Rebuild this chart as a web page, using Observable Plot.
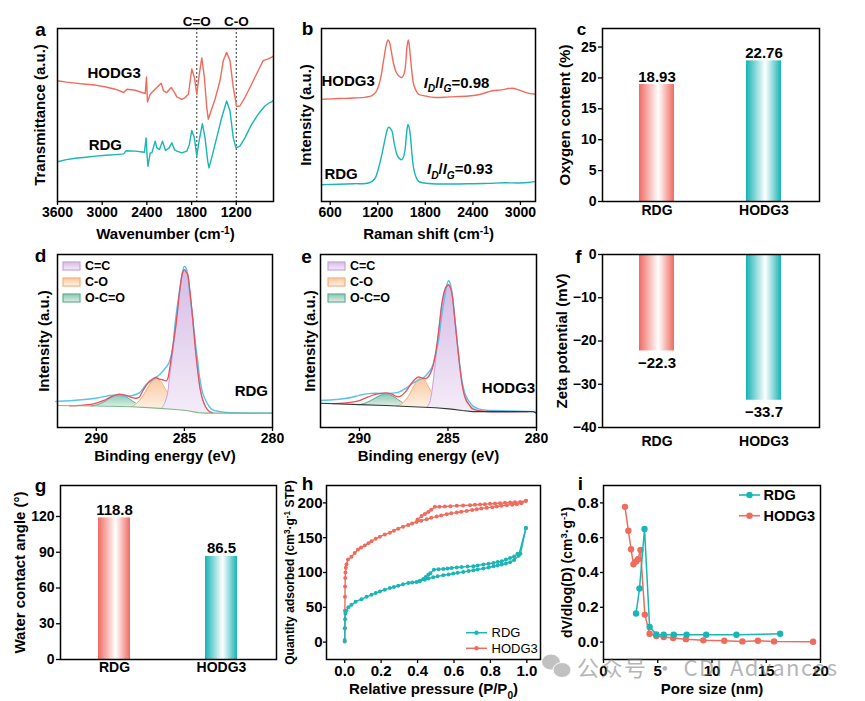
<!DOCTYPE html>
<html><head><meta charset="utf-8">
<script src="https://cdn.jsdelivr.net/npm/d3@7"></script>
<script src="https://cdn.jsdelivr.net/npm/@observablehq/plot@0.6"></script>
<style>
html,body{margin:0;padding:0;background:#fff;}
#root{position:relative;width:865px;height:701px;overflow:hidden;background:#fff;}
</style></head><body><div id="root"></div>
<script>
// ================= DATA =================
const samples = ["RDG", "HODG3"];
const oxygenContent = [18.93, 22.76];
const zetaPotential = [-22.3, -33.7];
const contactAngle = [118.8, 86.5];
const idigRatio = [0.98, 0.93];

// (a) FTIR  [wavenumber, transmittance a.u.]
const ftirTicks = [3600, 3000, 2400, 1800, 1200];
const ftirBands = [{wn: 1730, label: "C=O"}, {wn: 1200, label: "C-O"}];
const ftirHODG3 = [[3600,69.8],[3480,69.0],[3359,68.4],[3220,67.8],[3091,67.3],[2950,66.2],[2824,64.9],[2712,63.0],[2667,64.9],[2556,64.3],[2422,62.4],[2405,72.0],[2392,57.5],[2355,62.0],[2311,64.0],[2266,65.9],[2208,68.4],[2177,64.0],[2132,63.0],[2074,65.9],[2043,64.0],[1998,60.5],[1931,59.1],[1887,60.1],[1842,62.0],[1797,76.6],[1762,71.7],[1730,62.0],[1699,72.7],[1663,83.0],[1628,71.7],[1596,54.3],[1575,47.5],[1539,52.3],[1485,59.1],[1418,69.8],[1374,81.4],[1329,86.2],[1284,81.4],[1240,65.9],[1195,55.0],[1151,55.2],[1084,60.1],[994,67.8],[906,75.6],[839,81.4],[772,82.4],[728,83.3],[705,84.0]];
const ftirRDG = [[3600,23.0],[3480,24.2],[3359,25.0],[3220,25.6],[3091,26.2],[2950,26.7],[2824,27.1],[2712,27.5],[2680,29.3],[2556,29.1],[2433,28.5],[2410,36.8],[2398,27.0],[2386,20.3],[2355,28.1],[2333,28.1],[2288,34.9],[2266,31.0],[2230,30.0],[2190,34.9],[2150,29.5],[2100,31.0],[2065,33.9],[2030,30.0],[1998,29.1],[1931,28.1],[1864,29.1],[1830,33.0],[1797,41.1],[1762,36.8],[1730,26.2],[1699,34.9],[1655,45.0],[1619,36.8],[1583,23.3],[1566,19.4],[1530,25.2],[1463,36.8],[1396,48.4],[1329,58.1],[1284,52.3],[1240,36.8],[1204,31.0],[1151,32.0],[1084,36.8],[994,44.6],[906,50.4],[816,55.2],[749,57.2],[718,57.7],[705,58.5]];

// (b) Raman [shift, intensity a.u.]
const ramanTicks = [600, 1200, 1800, 2400, 3000];
const ramanHODG3 = [[490,59.1],[700,59.5],[900,59.8],[1050,60.3],[1127,61.2],[1180,63.5],[1230,70],[1273,81.4],[1300,89],[1316,92.0],[1329,93.4],[1345,92.5],[1370,87],[1400,79.5],[1430,75],[1463,72.7],[1505,71.7],[1530,73.5],[1547,77.5],[1568,89.1],[1585,93.4],[1598,90],[1615,82],[1635,73],[1652,67.8],[1690,63.5],[1715,62.0],[1800,61],[1926,60.1],[2100,60.5],[2347,61.0],[2500,62],[2642,64.0],[2760,64.5],[2895,65.5],[2979,64.5],[3080,62.8],[3190,62.0]];
const ramanRDG = [[490,9.7],[700,10.0],[900,10.3],[1084,10.7],[1160,13],[1210,19.4],[1260,29],[1295,36.8],[1320,41.5],[1337,43.0],[1355,42.5],[1379,40.7],[1410,33],[1442,27.1],[1475,24.8],[1505,24.2],[1530,26.5],[1547,31.0],[1565,40],[1581,44.6],[1595,43],[1610,38.8],[1630,28],[1652,19.4],[1680,14.5],[1715,11.6],[1850,10.4],[2137,10.1],[2400,10.3],[2600,10.5],[2800,10.8],[2979,10.7],[3100,11.0],[3190,11.6]];

// (d)(e) XPS C1s  [binding energy, intensity]  components: [BE, background, component]
const xpsTicks = [290, 285, 280];
const xpsComponents = ["C=C", "C-O", "O-C=O"];
const dBase = [[292.2,12.7],[290,12.4],[288,12.0],[286.6,11.2],[285.5,10.4],[284.9,9.8],[284.2,8.6],[283.8,8.3],[280,8.3]];
const dOCO = [[290.3,12.4,12.4],[290.0,12.4,13.0],[289.6,12.3,14.6],[289.3,12.3,16.5],[289.0,12.2,18.2],[288.7,12.2,18.9],[288.4,12.1,18.2],[288.1,12.0,16.4],[287.8,11.9,14.3],[287.5,11.8,12.8],[287.2,11.6,11.9]];
const dCO = [[288.0,12.0,12.0],[287.7,11.8,14.0],[287.4,11.7,17.5],[287.1,11.5,22.5],[286.85,11.3,26.5],[286.6,11.2,28.5],[286.35,11.0,26.8],[286.1,10.9,22.5],[285.8,10.7,17.5],[285.5,10.4,13.5],[285.2,10.1,11.0],[284.9,9.8,9.9]];
const dCC = [[286.3,11.0,11.0],[286.1,10.9,14.5],[285.95,10.8,20],[285.85,10.7,28.5],[285.65,10.5,44],[285.47,10.4,59.4],[285.3,10.2,75],[285.19,10.1,84.4],[285.1,10.0,89.5],[285.0,9.9,91.1],[284.9,9.8,90.0],[284.81,9.7,88.3],[284.7,9.5,80],[284.53,9.2,63.2],[284.4,9.0,48],[284.24,8.7,32.4],[284.1,8.5,22],[283.96,8.4,16.0],[283.8,8.3,12],[283.58,8.3,9.2],[283.4,8.3,8.5]];
const dFit = [[291.5,12.5],[290.9,12.8],[290.2,13.5],[289.6,15.5],[289.3,17.0],[289.0,18.5],[288.7,19.3],[288.4,18.8],[288.13,17.9],[287.95,17.2],[287.75,16.9],[287.56,17.5],[287.38,20.8],[287.18,24.0],[286.99,26.6],[286.8,28.0],[286.61,28.9],[286.42,28.0],[286.24,27.6],[286.04,27.0],[285.95,28.0],[285.85,33],[285.67,46],[285.47,60],[285.28,78],[285.1,89.5],[285.0,91.3],[284.9,90],[284.81,88.3],[284.7,80],[284.53,63.2],[284.4,48],[284.24,32.4],[284.1,22],[283.96,16.0],[283.8,12],[283.58,9.2],[283.4,8.5]];
const dRaw = [[292.3,15.0],[291.5,15.5],[290.8,16.0],[290.03,16.9],[289.46,18.0],[289.27,18.5],[288.9,18.6],[288.7,18.5],[288.32,18.2],[287.95,18.5],[287.56,20.0],[287.38,22.0],[287.18,24.7],[286.81,27.5],[286.42,30.5],[286.24,32.4],[285.95,36],[285.85,38.2],[285.67,45],[285.57,55.5],[285.47,65],[285.28,78.6],[285.1,90.2],[285.0,93.1],[284.9,92],[284.81,88.3],[284.72,80],[284.53,63.2],[284.33,45],[284.24,38.2],[284.15,30],[283.96,20],[283.76,15.0],[283.58,12],[283.39,10.2],[282.62,8.7],[280,8.3]];
const eBase = [[292.2,14.0],[290,13.2],[288.5,12.7],[287,12.0],[285.7,11.4],[284.8,10.6],[284.2,9.8],[283.6,9.2],[280.2,9.2],[280,8.2]];
const eOCO = [[290.0,13.2,13.2],[289.7,13.1,14.0],[289.4,13.0,15.3],[289.1,12.9,17.0],[288.8,12.8,18.6],[288.53,12.7,19.5],[288.3,12.6,19.0],[288.0,12.5,17.4],[287.7,12.4,15.3],[287.4,12.2,13.5],[287.1,12.0,12.3]];
const eCO = [[287.9,12.3,12.3],[287.6,12.2,13.8],[287.3,12.1,17.0],[287.05,12.0,21.5],[286.8,11.9,26.0],[286.56,11.8,28.8],[286.35,11.7,27.6],[286.1,11.6,23.5],[285.8,11.4,18.0],[285.5,11.2,14.0],[285.2,11.0,11.8],[284.95,10.7,10.8]];
const eCC = [[286.2,11.7,11.7],[286.05,11.6,14],[285.9,11.5,21.4],[285.75,11.4,34],[285.62,11.3,46.4],[285.48,11.2,59],[285.34,11.1,71.3],[285.2,11.0,78],[285.09,10.9,81.1],[284.95,10.7,82.2],[284.86,10.6,80.5],[284.77,10.5,77.3],[284.63,10.3,64],[284.49,10.1,50.3],[284.35,10.0,37],[284.21,9.8,25.3],[284.07,9.7,19],[283.93,9.5,15.6],[283.79,9.4,13],[283.65,9.2,11.7],[283.4,9.2,10.0]];
const eFit = [[291.5,13.8],[290.5,14.5],[290,15.6],[289.66,17.0],[289.3,18.5],[288.9,19.6],[288.53,20.0],[288.2,19.5],[287.97,18.2],[287.7,18.0],[287.41,20.5],[287.1,25.0],[286.85,28.0],[286.66,29.3],[286.45,28.6],[286.28,28.2],[286.1,29.5],[285.9,33.5],[285.75,40],[285.62,48.5],[285.48,60],[285.34,72],[285.2,79],[285.09,81.5],[284.95,82.5],[284.86,80.7],[284.77,77.3],[284.63,64],[284.49,50.3],[284.35,37],[284.21,25.3],[284.07,18.5],[283.93,14.8],[283.84,13.7],[283.65,11.0],[283.46,10.2],[283.0,9.4],[280.5,9.2]];
const eRaw = [[292.2,15.6],[291.5,16.0],[290.8,16.8],[290.41,17.5],[290.0,18.6],[289.5,19.6],[289.1,19.8],[288.53,19.5],[288.1,19.9],[287.78,20.4],[287.4,22.5],[287.03,25.3],[286.75,27.0],[286.46,28.2],[286.2,30.5],[285.9,34.9],[285.75,40],[285.62,46],[285.53,50.3],[285.36,64],[285.19,75.3],[285.05,83],[284.96,85.0],[284.87,83],[284.77,77.3],[284.63,65],[284.49,50.3],[284.35,37],[284.21,27.2],[284.05,20],[283.84,15.6],[283.6,12.5],[283.27,10.8],[282.8,10.0],[282.33,9.8],[280.07,9.2]];

// (h) N2 isotherms [P/P0, quantity]
const betXTicks = [0, 0.2, 0.4, 0.6, 0.8, 1.0];
const betYTicks = [0, 50, 100, 150, 200];
const rdgAds = [[0,1],[0.001,20],[0.002,33],[0.004,41],[0.009,45],[0.02,50],[0.037,53.5],[0.06,58],[0.092,61.7],[0.12,65],[0.147,68],[0.17,70.5],[0.193,72.8],[0.22,75.3],[0.248,77.6],[0.27,79.2],[0.294,81],[0.32,83],[0.349,84.9],[0.37,85.6],[0.394,86.3],[0.415,88],[0.44,89.7],[0.46,91.3],[0.486,93],[0.51,94.5],[0.541,96],[0.57,97.2],[0.596,98.4],[0.62,99.5],[0.651,100.8],[0.68,102],[0.706,103.2],[0.73,104.3],[0.761,105.6],[0.79,107.2],[0.817,109],[0.84,110.2],[0.862,111.4],[0.885,113],[0.908,114.8],[0.93,118],[0.955,124],[0.995,164]];
const rdgDes = [[0.995,164],[0.965,127],[0.949,126.8],[0.93,123],[0.908,121],[0.885,118.5],[0.862,116.2],[0.84,115],[0.817,113.8],[0.79,112.6],[0.761,111.4],[0.73,110.2],[0.706,109],[0.675,108.5],[0.642,108],[0.615,107.3],[0.587,106.6],[0.565,105.8],[0.541,105.1],[0.515,104.6],[0.49,104.1],[0.47,99],[0.459,96.9],[0.445,93.5],[0.431,90.6],[0.41,87.5]];
const hodgAds = [[0,3],[0.0005,20],[0.001,45],[0.0015,65],[0.002,80],[0.003,92],[0.004,100],[0.006,107],[0.01,112],[0.018,118.6],[0.037,122.5],[0.055,128],[0.073,133],[0.09,136],[0.11,138.9],[0.13,142],[0.147,145],[0.17,148.5],[0.193,151.4],[0.22,154.5],[0.248,157.2],[0.27,160],[0.294,163],[0.32,165.8],[0.349,168.3],[0.37,170.5],[0.394,172.6],[0.42,174.5],[0.45,176.5],[0.475,178.5],[0.505,180.3],[0.53,182],[0.56,183.7],[0.585,185],[0.615,186.1],[0.64,187.3],[0.67,188.5],[0.7,189.8],[0.725,190.9],[0.75,192],[0.78,192.9],[0.81,193.9],[0.835,194.8],[0.86,195.8],[0.89,196.7],[0.92,197.5],[0.945,198.2],[0.97,199.5],[0.995,203]];
const hodgDes = [[0.995,203],[0.963,201.4],[0.935,201],[0.908,200.6],[0.88,200.1],[0.853,199.6],[0.825,199.1],[0.798,198.6],[0.77,198.2],[0.743,197.7],[0.715,197.2],[0.688,196.7],[0.65,196.2],[0.615,195.8],[0.58,195.3],[0.55,194.8],[0.52,194.5],[0.495,194.3],[0.475,190],[0.459,187.1],[0.44,184],[0.422,181.3],[0.4,176]];

// (i) pore size distribution [nm, dV/dlog(D)]
const psdXTicks = [0, 5, 10, 15, 20];
const psdYTicks = [0, 0.2, 0.4, 0.6, 0.8];
const psdRDG = [[3.0,0.164],[3.32,0.308],[3.78,0.65],[4.25,0.087],[4.87,0.044],[5.55,0.042],[6.48,0.042],[7.66,0.042],[9.46,0.042],[12.25,0.042],[16.28,0.048]];
const psdHODG3 = [[1.98,0.777],[2.29,0.64],[2.54,0.534],[2.76,0.447],[3.0,0.463],[3.19,0.476],[3.41,0.53],[3.81,0.158],[4.25,0.048],[4.87,0.035],[5.55,0.029],[6.42,0.023],[7.6,0.017],[9.2,0.01],[11.13,0.008],[12.8,0.004],[14.23,0.008],[15.72,0.004],[19.32,0.002]];

// ================= RENDER =================
const NS = "http://www.w3.org/2000/svg";
const RED = "#EF6B5E", TEAL = "#1AB5B5";
const XBLUE = "#55C3F2", XRED = "#E8505A";
const FONT = "'Liberation Sans', Arial, Helvetica, sans-serif";
const STYLE = `font-family:${FONT};font-size:14px;font-weight:bold;color:#000;background:transparent;overflow:visible;`;
const root = document.getElementById("root");

function el(tag, attrs, parent, text) {
  const e = document.createElementNS(NS, tag);
  for (const k in attrs) e.setAttribute(k, attrs[k]);
  if (text != null) e.textContent = text;
  if (parent) parent.appendChild(e);
  return e;
}
// gradient definitions
const defsSvg = el("svg", {width: 0, height: 0, style: "position:absolute;left:0;top:0"}, root);
const defs = el("defs", {}, defsSvg);
function hgrad(id, c) {
  const g = el("linearGradient", {id, x1: 0, x2: 1, y1: 0, y2: 0}, defs);
  el("stop", {offset: 0, "stop-color": c}, g);
  el("stop", {offset: 0.55, "stop-color": "#ffffff"}, g);
  el("stop", {offset: 1, "stop-color": c}, g);
}
function vgrad(id, c1, c2) {
  const g = el("linearGradient", {id, x1: 0, x2: 0, y1: 0, y2: 1}, defs);
  el("stop", {offset: 0, "stop-color": c1}, g);
  el("stop", {offset: 1, "stop-color": c2}, g);
}
hgrad("gRed", "#F06A62");
hgrad("gTeal", "#17B3B5");
vgrad("gPur", "#D7BCE5", "#F4ECF8");
vgrad("gOra", "#FBC89F", "#FEF1E6");
vgrad("gGrn", "#8CC5B0", "#DCEFE7");

function place(svg, left, top) {
  svg.style.position = "absolute";
  svg.style.left = left + "px";
  svg.style.top = top + "px";
  root.appendChild(svg);
  return svg;
}
const T = d => d;
const yTitle = (s, dx, fs = 15) => Plot.text([s], {text: T, frameAnchor: "left", dx, rotate: -90, fontSize: fs, textAnchor: "middle", lineAnchor: "middle"});
const xTitle = (s, dy, fs = 15) => Plot.text([s], {text: T, frameAnchor: "bottom", dy, fontSize: fs, textAnchor: "middle", lineAnchor: "middle"});
const letter = (s, dx, dy, fs = 19) => Plot.text([s], {text: T, frameAnchor: "top-left", dx, dy, fontSize: fs, textAnchor: "middle", lineAnchor: "middle"});
const frame = () => Plot.frame({stroke: "#000", strokeWidth: 1.5});
const px = d => d[0], py = d => d[1];

// ---- (a) FTIR
place(Plot.plot({
  width: 285, height: 240, marginLeft: 57, marginRight: 12, marginTop: 28, marginBottom: 39,
  style: STYLE,
  x: {domain: [3600, 700], label: null},
  y: {domain: [0, 100], axis: null},
  marks: [
    Plot.ruleX(ftirBands, {x: "wn", stroke: "#333", strokeWidth: 1, strokeDasharray: "2,2"}),
    Plot.line(ftirHODG3, {x: px, y: py, stroke: RED, strokeWidth: 1.4}),
    Plot.line(ftirRDG, {x: px, y: py, stroke: TEAL, strokeWidth: 1.4}),
    Plot.text(ftirBands, {x: "wn", text: "label", frameAnchor: "top", dy: -7, fontSize: 13.5, lineAnchor: "middle"}),
    Plot.text([{x: 2840, y: 74, t: "HODG3"}, {x: 2958, y: 32.6, t: "RDG"}], {x: "x", y: "y", text: "t", fontSize: 15}),
    frame(),
    Plot.axisX({ticks: ftirTicks, tickFormat: d => String(d), tickSize: 4, tickPadding: 2, strokeWidth: 1.3, label: null}),
    xTitle("Wavenumber (cm^{-1})", 33),
    yTitle("Transmittance (a.u.)", -17),
    letter("a", -17, 1)
  ]
}), 0, 0);

// ---- (b) Raman
place(Plot.plot({
  width: 270, height: 240, marginLeft: 36, marginRight: 20, marginTop: 28, marginBottom: 39,
  style: STYLE,
  x: {domain: [490, 3190], label: null},
  y: {domain: [0, 100], axis: null},
  marks: [
    Plot.line(ramanHODG3, {x: px, y: py, stroke: RED, strokeWidth: 1.4, curve: "catmull-rom"}),
    Plot.line(ramanRDG, {x: px, y: py, stroke: TEAL, strokeWidth: 1.4, curve: "catmull-rom"}),
    Plot.text([{x: 827, y: 69.8, t: "HODG3"}, {x: 737, y: 15.7, t: "RDG"}], {x: "x", y: "y", text: "t", fontSize: 15}),
    Plot.text([{x: 1779, y: 68.6, r: idigRatio[0]}, {x: 1821, y: 18.6, r: idigRatio[1]}],
      {x: "x", y: "y", text: d => `*I*_i{D}/*I*_i{G}=${d.r.toFixed(2)}`, textAnchor: "start", fontSize: 15}),
    frame(),
    Plot.axisX({ticks: ramanTicks, tickFormat: d => String(d), tickSize: 4, tickPadding: 2, strokeWidth: 1.3, label: null}),
    xTitle("Raman shift (cm^{-1})", 33),
    yTitle("Intensity (a.u.)", -15),
    letter("b", -14, 0)
  ]
}), 285, 0);

// ---- bar chart helper
const barTable = vals => samples.map((s, i) => ({name: s, value: vals[i]}));
function barPlot(opts) {
  const data = barTable(opts.values);
  return Plot.plot({
    width: opts.width, height: opts.height,
    marginLeft: opts.ml, marginRight: opts.mr, marginTop: opts.mt, marginBottom: opts.mb,
    style: STYLE,
    x: {domain: samples, paddingInner: opts.pi, paddingOuter: opts.po, label: null},
    y: {domain: opts.ydomain, label: null},
    marks: [
      Plot.barY(data, {filter: d => d.name === "RDG", x: "name", y: "value", fill: "url(#gRed)"}),
      Plot.barY(data, {filter: d => d.name === "HODG3", x: "name", y: "value", fill: "url(#gTeal)"}),
      Plot.text(data, {x: "name", y: "value", text: opts.fmt, lineAnchor: opts.below ? "top" : "bottom", dy: opts.below ? 6 : -3, fontSize: 15}),
      frame(),
      Plot.axisX({tickSize: 0, tickPadding: opts.xpad, label: null}),
      Plot.axisY({ticks: opts.ticks, tickFormat: opts.tfmt, tickSize: 4, tickPadding: 2, strokeWidth: 1.3, label: null}),
      yTitle(opts.title, opts.tdx),
      letter(opts.letter, opts.ldx, opts.ldy, opts.lfs || 19)
    ]
  });
}
// ---- (c)
place(barPlot({width: 310, height: 240, ml: 47, mr: 46, mt: 28, mb: 39, pi: 0.67, po: 0.345,
  values: oxygenContent, ydomain: [0, 28], ticks: [0, 5, 10, 15, 20, 25], tfmt: d => String(d),
  fmt: d => d.value.toFixed(2), xpad: 4, title: "Oxygen content (%)", tdx: -37, letter: "c", ldx: -21, ldy: 1, lfs: 17}), 555, 0);
// ---- (f)
place(barPlot({width: 310, height: 230, ml: 47, mr: 46, mt: 14, mb: 43, pi: 0.67, po: 0.345,
  values: zetaPotential, ydomain: [-40, 0], ticks: [0, -10, -20, -30, -40], tfmt: d => d < 0 ? "\u2212" + (-d) : "0",
  fmt: d => "\u2212" + Math.abs(d.value).toFixed(1), below: true, xpad: 9, title: "Zeta potential (mV)", tdx: -40, letter: "f", ldx: -24, ldy: 2}), 555, 240);
// ---- (g)
place(barPlot({width: 285, height: 231, ml: 60, mr: 9, mt: 15, mb: 42, pi: 0.70, po: 0.353,
  values: contactAngle, ydomain: [0, 146], ticks: [0, 30, 60, 90, 120], tfmt: d => String(d),
  fmt: d => d.value.toFixed(1), xpad: 3, title: "Water contact angle (°)", tdx: -40, letter: "g", ldx: -20, ldy: 0}), 0, 470);

// ---- XPS helper
function xpsPlot(o) {
  const comp = (data, fill, stroke) => [
    Plot.areaY(data, {x: px, y1: d => d[1], y2: d => d[2], fill, curve: "catmull-rom"}),
    Plot.line(data, {x: px, y: d => d[2], stroke, strokeWidth: 1, curve: "catmull-rom"})
  ];
  return Plot.plot({
    width: o.width, height: 230, marginLeft: o.ml, marginRight: o.mr, marginTop: 14, marginBottom: 43,
    style: STYLE,
    x: {domain: [292.2, 280], label: null},
    y: {domain: [0, 100], axis: null},
    marks: [
      ...comp(o.oco, "url(#gGrn)", "#62B096"),
      ...comp(o.co, "url(#gOra)", "#F6B07C"),
      ...comp(o.cc, "url(#gPur)", "#C9A2DA"),
      Plot.line(o.raw, {x: px, y: py, stroke: XBLUE, strokeWidth: 1.4, curve: "catmull-rom"}),
      Plot.line(o.fit, {x: px, y: py, stroke: XRED, strokeWidth: 1.3, curve: "catmull-rom"}),
      Plot.line(o.base, {x: px, y: py, stroke: o.baseColor, strokeWidth: 1.1}),
      Plot.text([o.lab], {x: "x", y: "y", text: "t", fontSize: 15}),
      frame(),
      Plot.axisX({ticks: xpsTicks, tickFormat: d => String(d), tickSize: 4, tickPadding: 2, strokeWidth: 1.3, label: null}),
      xTitle("Binding energy (eV)", 29),
      yTitle("Intensity (a.u.)", o.tdx),
      letter(o.letter, o.ldx, o.ldy)
    ]
  });
}
place(xpsPlot({width: 285, ml: 57, mr: 13, oco: dOCO, co: dCO, cc: dCC, raw: dRaw, fit: dFit, base: dBase, baseColor: "#7FB58A",
  lab: {x: 281.2, y: 21.2, t: "RDG"}, tdx: -13, letter: "d", ldx: -17, ldy: 1}), 0, 240);
place(xpsPlot({width: 270, ml: 35, mr: 19, oco: eOCO, co: eCO, cc: eCC, raw: eRaw, fit: eFit, base: eBase, baseColor: "#2E3A33",
  lab: {x: 281.58, y: 22.7, t: "HODG3"}, tdx: -10, letter: "e", ldx: -14, ldy: 2}), 285, 240);

// ---- (h) isotherms
const iso = [
  ...hodgAds.map(d => ({p: d[0], q: d[1], s: "HODG3", b: "ads"})),
  ...hodgDes.map(d => ({p: d[0], q: d[1], s: "HODG3", b: "des"})),
  ...rdgAds.map(d => ({p: d[0], q: d[1], s: "RDG", b: "ads"})),
  ...rdgDes.map(d => ({p: d[0], q: d[1], s: "RDG", b: "des"}))
];
place(Plot.plot({
  width: 270, height: 231, marginLeft: 41, marginRight: 15, marginTop: 15, marginBottom: 42,
  style: STYLE,
  x: {domain: [-0.1, 1.075], label: null},
  y: {domain: [-25, 225], label: null},
  marks: [
    Plot.line(iso, {filter: d => d.s === "HODG3", x: "p", y: "q", z: "b", stroke: RED, strokeWidth: 1.4}),
    Plot.dot(iso, {filter: d => d.s === "HODG3", x: "p", y: "q", r: 2, fill: RED}),
    Plot.line(iso, {filter: d => d.s === "RDG", x: "p", y: "q", z: "b", stroke: TEAL, strokeWidth: 1.4}),
    Plot.dot(iso, {filter: d => d.s === "RDG", x: "p", y: "q", r: 2, fill: TEAL}),
    frame(),
    Plot.axisX({ticks: betXTicks, tickFormat: d => d.toFixed(1), tickSize: 4, tickPadding: 2, strokeWidth: 1.3, fontSize: 15, label: null}),
    Plot.axisY({ticks: betYTicks, tickFormat: d => String(d), tickSize: 3, tickPadding: 1, strokeWidth: 1.3, fontSize: 15, label: null}),
    xTitle("Relative pressure (P/P_{0})", 30),
    yTitle("Quantity adsorbed (cm^{3}·g^{-1} STP)", -36, 12),
    letter("h", -19, -2)
  ]
}), 285, 470);

// ---- (i) pore size distribution
const psd = [
  ...psdRDG.map(d => ({x: d[0], y: d[1], s: "RDG"})),
  ...psdHODG3.map(d => ({x: d[0], y: d[1], s: "HODG3"}))
];
place(Plot.plot({
  width: 310, height: 231, marginLeft: 48, marginRight: 45, marginTop: 15, marginBottom: 42,
  style: STYLE,
  x: {domain: [0, 20], label: null},
  y: {domain: [-0.1, 0.9], label: null},
  marks: [
    Plot.line(psd, {filter: d => d.s === "HODG3", x: "x", y: "y", stroke: RED, strokeWidth: 1.5}),
    Plot.dot(psd, {filter: d => d.s === "HODG3", x: "x", y: "y", r: 3.2, fill: RED}),
    Plot.line(psd, {filter: d => d.s === "RDG", x: "x", y: "y", stroke: TEAL, strokeWidth: 1.5}),
    Plot.dot(psd, {filter: d => d.s === "RDG", x: "x", y: "y", r: 3.2, fill: TEAL}),
    frame(),
    Plot.axisX({ticks: psdXTicks, tickFormat: d => String(d), tickSize: 4, tickPadding: 2, strokeWidth: 1.3, fontSize: 15, label: null}),
    Plot.axisY({ticks: psdYTicks, tickFormat: d => d.toFixed(1), tickSize: 3, tickPadding: 2, strokeWidth: 1.3, fontSize: 15, label: null}),
    xTitle("Pore size (nm)", 30),
    yTitle("dV/dlog(D) (cm^{3}·g^{-1})", -36, 14),
    letter("i", -23, -2)
  ]
}), 555, 470);

// ---- overlay: legends + watermark (non-data decoration)
const ov = el("svg", {width: 865, height: 701, style: "position:absolute;left:0;top:0;pointer-events:none;font-family:" + FONT}, root);
const swatch = [["url(#gPur)", "#C9A2DA"], ["url(#gOra)", "#F6B07C"], ["url(#gGrn)", "#62B096"]];
for (const [sx, tx] of [[63, 85], [328, 350]]) {
  xpsComponents.forEach((name, i) => {
    const cy = 266 + i * 16;
    el("rect", {x: sx, y: cy - 4, width: 17, height: 8, fill: swatch[i][0], stroke: swatch[i][1], "stroke-width": 1.2}, ov);
    el("text", {x: tx, y: cy, "dominant-baseline": "central", "font-size": 12.5, "font-weight": "bold", fill: "#000"}, ov, name);
  });
}
// h legend
[["RDG", TEAL, 632.7], ["HODG3", RED, 648.3]].forEach(([n, c, y]) => {
  el("line", {x1: 466, x2: 487, y1: y, y2: y, stroke: c, "stroke-width": 1.5}, ov);
  el("circle", {cx: 476.5, cy: y, r: 2.2, fill: c}, ov);
  el("text", {x: 491.5, y, "dominant-baseline": "central", "font-size": 13, fill: "#000"}, ov, n);
});
// i legend
[["RDG", TEAL, 495], ["HODG3", RED, 515.7]].forEach(([n, c, y]) => {
  el("line", {x1: 739, x2: 760, y1: y, y2: y, stroke: c, "stroke-width": 1.6}, ov);
  el("circle", {cx: 749.5, cy: y, r: 3.2, fill: c}, ov);
  el("text", {x: 763.5, y, "dominant-baseline": "central", "font-size": 14.5, "font-weight": "bold", fill: "#000"}, ov, n);
});
// watermark
const wm = el("g", {opacity: 0.55}, ov);
el("ellipse", {cx: 551, cy: 662, rx: 9, ry: 7.5, fill: "#8f8f8f"}, wm);
el("ellipse", {cx: 562, cy: 670, rx: 9, ry: 7.5, fill: "#8f8f8f", stroke: "#fff", "stroke-width": 1}, wm);
el("text", {x: 577, y: 676, "font-size": 22, fill: "#7a7a7a", "font-family": "'Noto Sans CJK SC', 'Noto Sans', sans-serif",
  textLength: 260, lengthAdjust: "spacing"}, wm, "公众号 · CDI Advances");

// ---- rich text (superscripts, subscripts, italics)
function richify() {
  root.querySelectorAll("text").forEach(t => {
    const s = t.textContent;
    if (!/\^\{|_\{|_i\{|\*/.test(s)) return;
    const fs = parseFloat(getComputedStyle(t).fontSize) || 14;
    const re = /\^\{([^}]*)\}|_i\{([^}]*)\}|_\{([^}]*)\}|\*([^*]*)\*/g;
    const parts = []; let last = 0, m;
    while ((m = re.exec(s))) {
      if (m.index > last) parts.push({t: s.slice(last, m.index)});
      if (m[1] != null) parts.push({t: m[1], sup: true});
      else if (m[2] != null) parts.push({t: m[2], sub: true, it: true});
      else if (m[3] != null) parts.push({t: m[3], sub: true});
      else parts.push({t: m[4], it: true});
      last = re.lastIndex;
    }
    if (last < s.length) parts.push({t: s.slice(last)});
    while (t.firstChild) t.removeChild(t.firstChild);
    let cur = 0;
    for (const p of parts) {
      const ts = document.createElementNS(NS, "tspan");
      const target = p.sup ? -0.38 * fs : p.sub ? 0.3 * fs : 0;
      if (target !== cur) { ts.setAttribute("dy", (target - cur).toFixed(2)); cur = target; }
      if (p.sup || p.sub) ts.setAttribute("font-size", (0.68 * fs).toFixed(2));
      if (p.it) ts.setAttribute("font-style", "italic");
      ts.textContent = p.t;
      t.appendChild(ts);
    }
  });
}
richify();
</script></body></html>
